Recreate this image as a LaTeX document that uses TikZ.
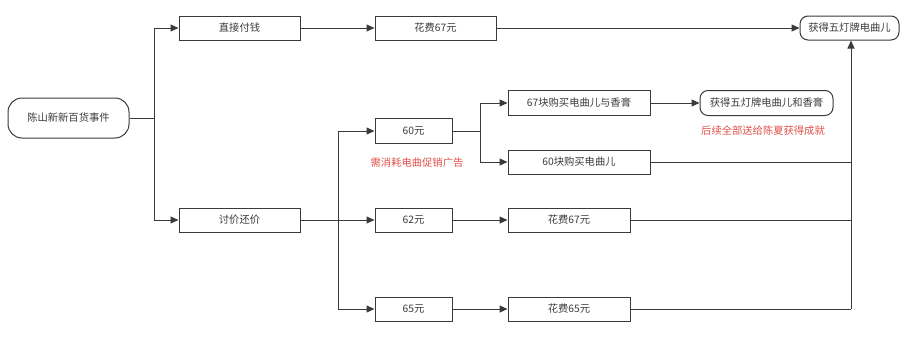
\documentclass[tikz,border=0pt]{standalone}
\usepackage{fontspec}
\setmainfont{Noto Sans CJK SC}
\usetikzlibrary{arrows.meta}
\definecolor{ln}{HTML}{3A3A3A}
\definecolor{tx}{HTML}{3C3C3C}
\definecolor{rd}{HTML}{E0504A}
\begin{document}
\begin{tikzpicture}[x=1pt,y=-1pt,
  box/.style={draw=ln,line width=1pt,fill=white,text=tx,font=\fontsize{10.3}{12}\selectfont,inner sep=0pt,minimum height=24pt},
  rbox/.style={box,rounded corners=8pt},
  note/.style={text=rd,font=\fontsize{10.3}{12}\selectfont,inner sep=0pt},
  conn/.style={draw=ln,line width=1pt},
  arr/.style={conn,-{Triangle[length=8pt,width=7pt]}}]
\useasboundingbox (0,0) rectangle (900,338);
\node[rbox,minimum width=121pt,minimum height=40pt,rounded corners=14pt] (root) at (68.5,118) {陈山新新百货事件};
\node[box,minimum width=121pt] (direct) at (239.5,28) {直接付钱};
\node[box,minimum width=121pt] (bargain) at (239.5,220) {讨价还价};
\node[box,minimum width=121pt] (cost67a) at (435.5,28) {花费67元};
\node[rbox,minimum width=99pt] (get) at (849.5,28) {获得五灯牌电曲儿};
\node[box,minimum width=77pt,minimum height=25pt] (p60) at (413.5,131) {60元};
\node[note] (n1) at (417,163) {需消耗电曲促销广告};
\node[box,minimum width=77pt] (p62) at (413.5,220) {62元};
\node[box,minimum width=77pt] (p65) at (413.5,309) {65元};
\node[box,minimum width=142pt,minimum height=25pt] (buy67) at (579,103) {67块购买电曲儿与香膏};
\node[box,minimum width=142pt] (buy60) at (579,162) {60块购买电曲儿};
\node[rbox,minimum width=133pt,minimum height=25pt] (getboth) at (766.5,103) {获得五灯牌电曲儿和香膏};
\node[note] (n2) at (763,131) {后续全部送给陈夏获得成就};
\node[box,minimum width=122pt] (cost67b) at (569,220) {花费67元};
\node[box,minimum width=122pt] (cost65) at (569,309) {花费65元};
\coordinate (j1) at (154,118);
\coordinate (j2) at (338,220);
\coordinate (j3) at (480,131);
\coordinate (j4) at (851,309);
% root branches
\draw[conn] (root.east) -- (j1);
\draw[arr] (j1) |- (direct.west);
\draw[arr] (j1) |- (bargain.west);
\draw[arr] (direct) -- (cost67a);
\draw[arr] (cost67a) -- (get);
% bargain branches
\draw[conn] (bargain.east) -- (j2);
\draw[arr] (j2) |- (p60.west);
\draw[arr] (j2) -- (p62.west);
\draw[arr] (j2) |- (p65.west);
% 60 branches
\draw[conn] (p60.east) -- (j3);
\draw[arr] (j3) |- (buy67.west);
\draw[arr] (j3) |- (buy60.west);
\draw[arr] (buy67) -- (getboth);
\draw[arr] (p62) -- (cost67b);
\draw[arr] (p65) -- (cost65);
% merge into final
\draw[conn] (buy60.east) -| (j4);
\draw[conn] (cost67b.east) -- (cost67b.east -| j4);
\draw[conn] (cost65.east) -- (j4);
\draw[arr] (j4) -- (j4 |- get.south);
\end{tikzpicture}
\end{document}
